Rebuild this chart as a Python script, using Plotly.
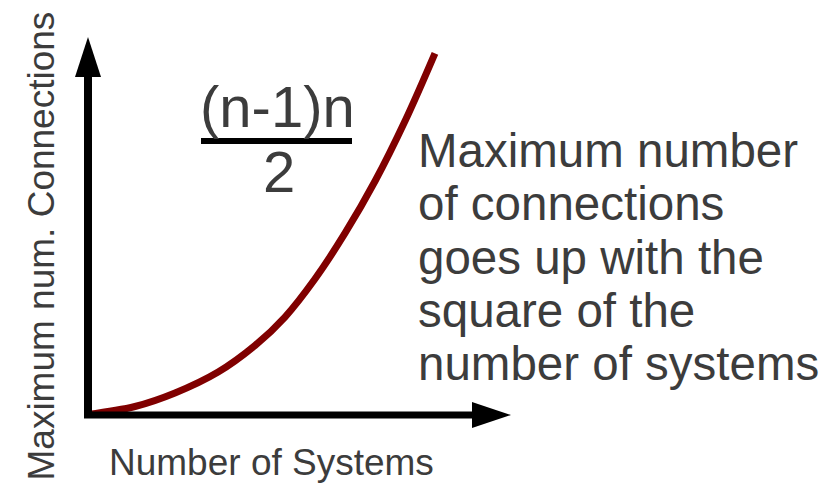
import plotly.graph_objects as go

# ---- data ----
n_systems = [0.0, 1.35, 2.50, 3.74, 4.80, 5.66, 6.52, 7.39, 8.25, 9.11, 9.97]
max_connections = [0.0, 0.99, 2.66, 5.25, 8.53, 12.05, 16.75, 22.44, 28.86, 36.28, 44.65]

x_label = "Number of Systems"
y_label = "Maximum num. Connections"
formula_top = "(n-1)n"
formula_bottom = "2"
note_lines = ["Maximum number", "of connections", "goes up with the",
              "square of the", "number of systems"]

W, H = 827, 483
# axis scales (data units <-> pixels)
X0_PX, X_PER = 88.0, 34.8
Y0_PX, Y_PER = 414.5, 8.09
x_range = [-X0_PX / X_PER, (W - X0_PX) / X_PER]
y_range = [(Y0_PX - H) / Y_PER, Y0_PX / Y_PER]

TEXT = "#3c3c3c"
FONT = "Liberation Sans, Arial, sans-serif"

def dx(px):
    return (px - X0_PX) / X_PER

def dy(py):
    return (Y0_PX - py) / Y_PER

fig = go.Figure()
fig.add_trace(go.Scatter(
    x=n_systems, y=max_connections, mode="lines",
    line=dict(color="#800000", width=7, shape="spline", smoothing=1.0),
    hoverinfo="skip", showlegend=False))

shapes = [
    # y axis shaft + arrow head
    dict(type="line", x0=0, x1=0, y0=dy(418), y1=dy(76), line=dict(color="black", width=8)),
    dict(type="path", path=f"M {dx(75)} {dy(77)} L {dx(101)} {dy(77)} L {dx(88)} {dy(37)} Z",
         fillcolor="black", line=dict(width=0)),
    # x axis shaft + arrow head
    dict(type="line", x0=dx(84), x1=dx(473), y0=dy(415), y1=dy(415), line=dict(color="black", width=7)),
    dict(type="path", path=f"M {dx(472)} {dy(402)} L {dx(472)} {dy(428)} L {dx(511)} {dy(415)} Z",
         fillcolor="black", line=dict(width=0)),
    # fraction bar
    dict(type="line", x0=dx(201), x1=dx(352), y0=dy(141), y1=dy(141), line=dict(color="black", width=6)),
]

ann = []
def txt(text, x, y, size, xanchor="left", angle=0):
    ann.append(dict(text=text, x=x / W, y=1 - y / H, xref="paper", yref="paper",
                    xanchor=xanchor, yanchor="middle", showarrow=False, textangle=angle,
                    font=dict(family=FONT, size=size, color=TEXT)))

txt(formula_top, 277, 106, 58, "center")
txt(formula_bottom, 279, 171, 58, "center")
for i, line in enumerate(note_lines):
    txt(line, 416, 150.5 + i * 53.3, 47.5, "left")
txt(x_label, 271.5, 462, 37, "center")
txt(y_label, 41.5, 246, 37, "center", angle=-90)

fig.update_layout(
    width=W, height=H, margin=dict(l=0, r=0, t=0, b=0),
    paper_bgcolor="white", plot_bgcolor="white",
    xaxis=dict(range=x_range, visible=False, fixedrange=True),
    yaxis=dict(range=y_range, visible=False, fixedrange=True),
    shapes=shapes, annotations=ann, showlegend=False)

fig.write_html("out.html", config={"displayModeBar": False},
               post_script="document.body.style.margin='0';document.body.style.padding='0';")
